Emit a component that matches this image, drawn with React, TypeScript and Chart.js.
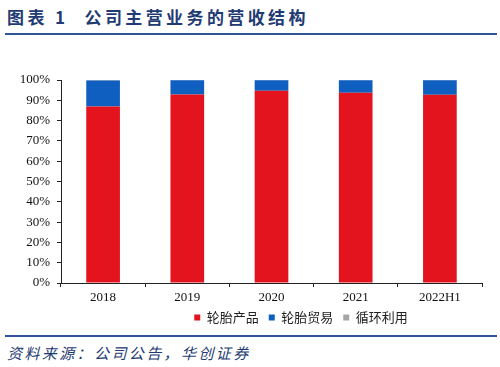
import React, { useEffect, useRef } from "react";
import { Chart, registerables } from "chart.js";

Chart.register(...registerables);

const categories = ["2018", "2019", "2020", "2021", "2022H1"];
const tireProducts = [86.9, 92.9, 94.7, 93.7, 92.7];
const tireTrade = [12.9, 7.0, 5.2, 6.2, 7.2];
const recycling = [0.2, 0.1, 0.1, 0.1, 0.1];
const seriesNames = ["轮胎产品", "轮胎贸易", "循环利用"];
const yTicks = [0, 10, 20, 30, 40, 50, 60, 70, 80, 90, 100];

const NAVY = "#1f3b73";
const LINE = "#2e5597";

const legendShift = {
  id: "legendShift",
  afterLayout(chart: any) {
    const lg = chart.legend;
    if (lg) {
      lg.left += 60;
      lg.right += 60;
    }
  },
};

export default function App() {
  const canvasRef = useRef<HTMLCanvasElement | null>(null);

  useEffect(() => {
    const canvas = canvasRef.current;
    if (!canvas) return;
    const serif = "'Liberation Serif', 'Times New Roman', serif";
    const chart = new Chart(canvas, {
      type: "bar",
      data: {
        labels: categories,
        datasets: [
          { label: seriesNames[0], data: tireProducts, backgroundColor: "#e3141e" },
          { label: seriesNames[1], data: tireTrade, backgroundColor: "#0e5fbf" },
          { label: seriesNames[2], data: recycling, backgroundColor: "#a6a6a6" },
        ],
      },
      plugins: [legendShift],
      options: {
        animation: false,
        responsive: false,
        maintainAspectRatio: false,
        layout: { padding: { top: 40, right: 18, left: 0, bottom: 0 } },
        datasets: { bar: { categoryPercentage: 1, barPercentage: 0.4 } } as any,
        plugins: {
          tooltip: { enabled: false },
          legend: {
            position: "bottom",
            labels: {
              boxWidth: 6,
              boxHeight: 6,
              padding: 10,
              color: "#222",
              font: { family: "'Noto Sans CJK SC'", size: 13 },
            },
          },
        },
        scales: {
          x: {
            stacked: true,
            afterFit: (s: any) => {
              s.height = 18;
            },
            grid: {
              display: true,
              drawOnChartArea: false,
              drawTicks: true,
              tickLength: 4,
              color: "#222",
              offset: true,
            },
            border: { display: true, color: "#222", width: 1 },
            ticks: {
              color: "#111",
              padding: 3,
              font: { family: serif, size: 13 },
            },
          },
          y: {
            stacked: true,
            min: 0,
            max: 100,
            afterFit: (s: any) => {
              s.width = 61;
            },
            afterBuildTicks: (s: any) => {
              s.ticks = yTicks.map((v) => ({ value: v }));
            },
            grid: {
              display: true,
              drawOnChartArea: false,
              drawTicks: true,
              tickLength: 4,
              color: "#222",
            },
            border: { display: true, color: "#222", width: 1 },
            ticks: {
              color: "#111",
              padding: 7,
              font: { family: serif, size: 13 },
              callback: (v: any) => `${v}%`,
            },
          },
        },
      },
    });
    return () => chart.destroy();
  }, []);

  return (
    <div
      style={{
        position: "fixed",
        left: 0,
        top: 0,
        width: 500,
        height: 367,
        background: "#fff",
        overflow: "hidden",
      }}
    >
      <div
        style={{
          position: "absolute",
          left: 7,
          top: 5,
          fontFamily: "'Noto Sans CJK SC'",
          fontWeight: 700,
          fontSize: 17,
          lineHeight: "24px",
          color: NAVY,
          whiteSpace: "nowrap",
          letterSpacing: 3.4,
        }}
      >
        图表 1<span style={{ display: "inline-block", width: 16 }} />公司主营业务的营收结构
      </div>
      <div
        style={{
          position: "absolute",
          left: 5,
          top: 33,
          width: 492,
          height: 2,
          background: LINE,
        }}
      />
      <canvas
        ref={canvasRef}
        width={500}
        height={294}
        style={{ position: "absolute", left: 0, top: 40, width: 500, height: 294 }}
      />
      <div
        style={{
          position: "absolute",
          left: 5,
          top: 335,
          width: 492,
          height: 2,
          background: LINE,
        }}
      />
      <div
        style={{
          position: "absolute",
          left: 7,
          top: 342,
          fontFamily: "'Noto Sans CJK SC'",
          fontStyle: "italic",
          fontSize: 15,
          lineHeight: "22px",
          color: NAVY,
          whiteSpace: "nowrap",
          letterSpacing: 2.4,
        }}
      >
        资料来源：公司公告，华创证券
      </div>
    </div>
  );
}
